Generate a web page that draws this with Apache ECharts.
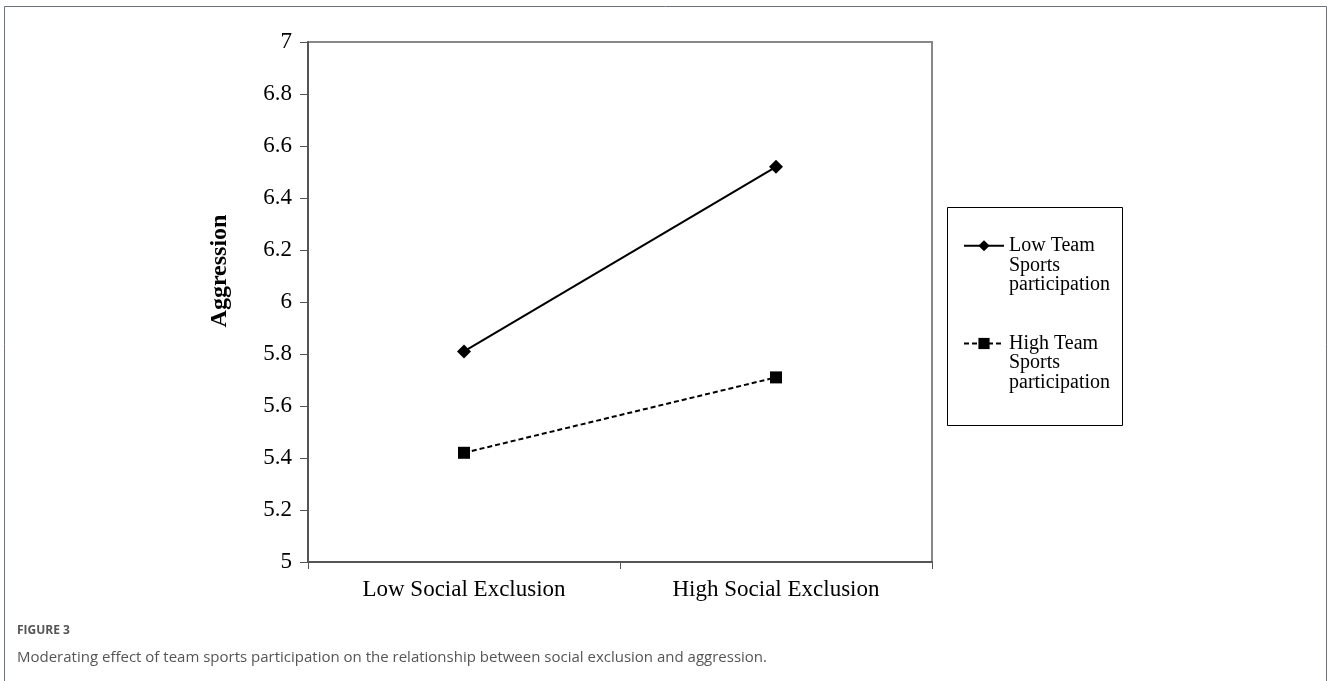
<!DOCTYPE html>
<html>
<head>
<meta charset="utf-8">
<script src="https://cdn.jsdelivr.net/npm/echarts@6/dist/echarts.min.js"></script>
<style>
html,body{margin:0;padding:0;background:#fff;}
#chart{width:1328px;height:681px;}
</style>
</head>
<body>
<div id="chart"></div>
<script>
var categories = ['Low Social Exclusion', 'High Social Exclusion'];
var lowTeam = [5.81, 6.52];
var highTeam = [5.42, 5.71];
var seriesNames = ['Low Team Sports participation', 'High Team Sports participation'];
var legendLines = {
  'Low Team Sports participation': ['Low Team', 'Sports', 'participation'],
  'High Team Sports participation': ['High Team', 'Sports', 'participation']
};
var yTicks = { min: 5, max: 7, interval: 0.2 };

var serif = 'Liberation Serif';
var chart = echarts.init(document.getElementById('chart'), null, { renderer: 'canvas' });
chart.setOption({
  animation: false,
  backgroundColor: '#fff',
  title: [
    { text: 'FIGURE 3', left: 12, top: 620, textStyle: { fontFamily: 'Open Sans', fontSize: 12, fontWeight: 'bold', color: '#555' } },
    { text: 'Moderating effect of team sports participation on the relationship between social exclusion and aggression.', left: 12, top: 645, textStyle: { fontFamily: 'Open Sans', fontSize: 15, fontWeight: 'normal', color: '#555' } }
  ],
  graphic: [
    { type: 'rect', shape: { x: 4.5, y: 6.5, width: 1322, height: 700 }, style: { fill: 'none', stroke: '#6b7280', lineWidth: 1 }, silent: true },
    { type: 'rect', shape: { x: 947.5, y: 207.5, width: 175, height: 218 }, style: { fill: 'none', stroke: '#000', lineWidth: 1 }, silent: true },
    { type: 'text', x: 220, y: 271, rotation: Math.PI / 2, style: { text: 'Aggression', fontFamily: serif, fontSize: 24, fontWeight: 'bold', fill: '#000', align: 'center', verticalAlign: 'middle' } }
  ],
  grid: { left: 308, top: 42, width: 624, height: 520, show: true, borderColor: '#888', borderWidth: 2, backgroundColor: 'transparent' },
  legend: {
    orient: 'vertical', left: 963, top: 197,
    padding: 0,
    itemWidth: 40, itemHeight: 14, itemGap: 0,
    data: seriesNames,
    formatter: function (name) {
      return '{s|}\n' + legendLines[name].map(function (l) { return '{t|' + l + '}'; }).join('\n');
    },
    textStyle: {
      fontFamily: serif, fontSize: 20, color: '#000',
      rich: {
        s: { height: 39, lineHeight: 39, fontSize: 20, fontFamily: serif },
        t: { height: 19.5, lineHeight: 19.5, fontSize: 20, fontFamily: serif, color: '#000' }
      }
    }
  },
  xAxis: {
    type: 'category', data: categories, boundaryGap: true,
    axisLine: { lineStyle: { color: '#555', width: 2 } },
    axisTick: { show: true, length: 7, lineStyle: { color: '#555', width: 1 } },
    axisLabel: { fontFamily: serif, fontSize: 23, color: '#000', margin: 16 },
    splitLine: { show: false }
  },
  yAxis: {
    type: 'value', min: yTicks.min, max: yTicks.max, interval: yTicks.interval,
    axisLine: { show: true, lineStyle: { color: '#555', width: 2 } },
    axisTick: { show: true, inside: false, length: 8, lineStyle: { color: '#555', width: 1 } },
    axisLabel: { fontFamily: serif, fontSize: 23, color: '#000', margin: 16 },
    splitLine: { show: false }
  },
  series: [
    { name: seriesNames[0], type: 'line', data: lowTeam, symbol: 'diamond', symbolSize: 14,
      lineStyle: { color: '#000', width: 2, type: 'solid' }, itemStyle: { color: '#000' } },
    { name: seriesNames[1], type: 'line', data: highTeam, symbol: 'rect', symbolSize: 12,
      lineStyle: { color: '#000', width: 2, type: [5, 3] }, itemStyle: { color: '#000' } }
  ]
});
</script>
</body>
</html>
